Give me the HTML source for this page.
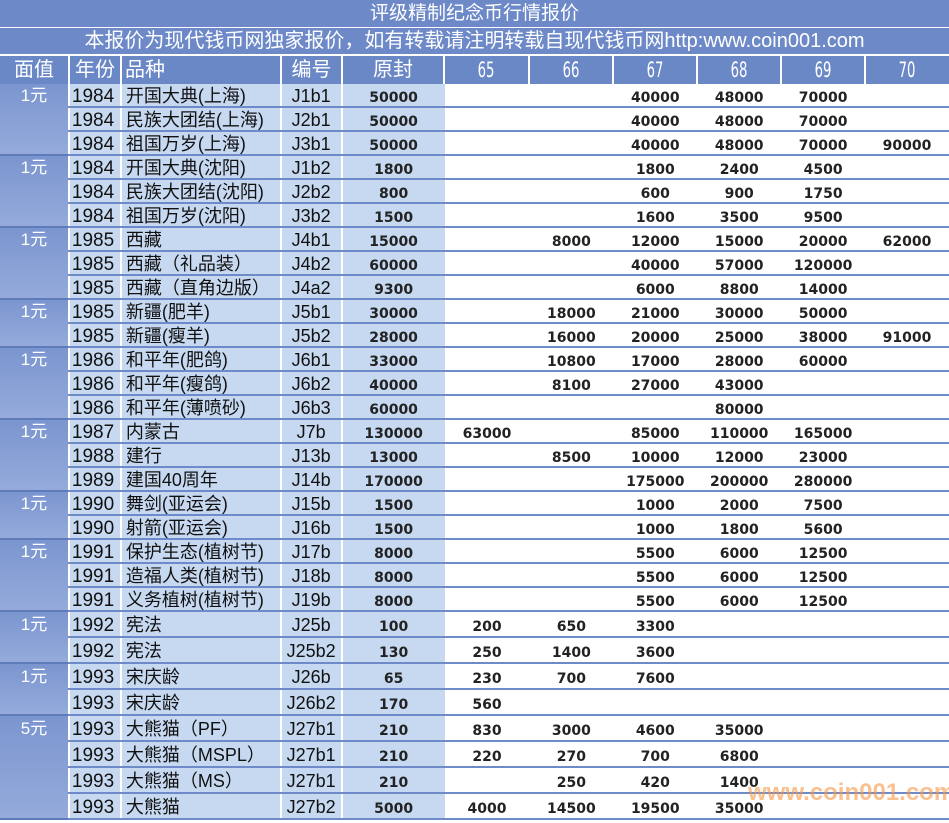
<!DOCTYPE html>
<html><head><meta charset="utf-8"><style>
*{margin:0;padding:0;box-sizing:border-box}
body{width:949px;height:820px;overflow:hidden;background:#fff;position:relative;font-family:"Liberation Sans","Noto Sans CJK SC",sans-serif}
.t{position:absolute;left:0;width:949px;background:#6d89c8;color:#fff;text-align:center}
#t1{top:0;height:27px;font-size:19px;line-height:27px}
#t2{top:28px;height:26px;font-size:20px;line-height:26px}
#hd{position:absolute;top:56px;left:0;height:28px;display:flex;width:949px}
#hd div{background:#6a87c6;color:#fff;font-size:20px;line-height:28px;text-align:center;border-right:2px solid #fff}
#hd .n{font-family:"DejaVu Sans Condensed","Liberation Sans Narrow",sans-serif;font-size:21px;transform:scaleX(.7)}
#rows{position:absolute;top:84px;left:0;width:949px}
.r{display:flex;height:24px;border-bottom:2px solid #6f8ac8}
.r.b{height:26px}
.r div{font-size:17px;line-height:25px;white-space:nowrap;color:#111}
.r.b div{line-height:27px}
.c0{width:70px}
.c1{width:52px;background:#c6d9f1;border-right:2px solid #fff;padding-left:2px;font-size:19px!important}
.c2{width:160px;background:#c6d9f1;border-right:2px solid #fff;padding-left:4px;font-size:18px!important}
.c3{width:61px;background:#c6d9f1;border-right:2px solid #fff;text-align:center;font-size:18px!important}
.c4{width:102px;background:#c6d9f1;text-align:center;font-family:"DejaVu Sans",sans-serif;font-weight:bold;font-size:14px!important;color:#222!important;padding-top:2px}
.v{width:84px;text-align:center;font-family:"DejaVu Sans",sans-serif;font-weight:bold;font-size:14px!important;color:#222!important;padding-top:2px}
.v5{width:85px}
.g{position:absolute;left:0;width:68px;background:linear-gradient(#7b95cf,#94abdb);color:#fff;text-align:center;font-size:17px;line-height:24px;border-bottom:2px solid #5f7bbb}
#wm{position:absolute;left:748px;top:779px;color:rgba(245,150,70,.6);font-weight:bold;font-size:24px;font-family:"Liberation Sans",sans-serif}
</style></head><body>
<div class="t" id="t1">评级精制纪念币行情报价</div>
<div class="t" id="t2">本报价为现代钱币网独家报价，如有转载请注明转载自现代钱币网http:www.coin001.com</div>
<div id="hd">
<div style="width:70px">面值</div><div style="width:52px">年份</div><div style="width:160px;text-align:left;padding-left:3px">品种</div><div style="width:61px">编号</div><div style="width:102px">原封</div>
<div style="width:85px"><span class="n" style="display:inline-block">65</span></div><div style="width:84px"><span class="n" style="display:inline-block">66</span></div><div style="width:84px"><span class="n" style="display:inline-block">67</span></div><div style="width:84px"><span class="n" style="display:inline-block">68</span></div><div style="width:84px"><span class="n" style="display:inline-block">69</span></div><div style="width:83px;border:0"><span class="n" style="display:inline-block">70</span></div>
</div>
<div id="rows">
<div class="r"><div class="c0"></div><div class="c1">1984</div><div class="c2">开国大典(上海)</div><div class="c3">J1b1</div><div class="c4">50000</div><div class="v v5"></div><div class="v"></div><div class="v">40000</div><div class="v">48000</div><div class="v">70000</div><div class="v"></div></div>
<div class="r"><div class="c0"></div><div class="c1">1984</div><div class="c2">民族大团结(上海)</div><div class="c3">J2b1</div><div class="c4">50000</div><div class="v v5"></div><div class="v"></div><div class="v">40000</div><div class="v">48000</div><div class="v">70000</div><div class="v"></div></div>
<div class="r"><div class="c0"></div><div class="c1">1984</div><div class="c2">祖国万岁(上海)</div><div class="c3">J3b1</div><div class="c4">50000</div><div class="v v5"></div><div class="v"></div><div class="v">40000</div><div class="v">48000</div><div class="v">70000</div><div class="v">90000</div></div>
<div class="r"><div class="c0"></div><div class="c1">1984</div><div class="c2">开国大典(沈阳)</div><div class="c3">J1b2</div><div class="c4">1800</div><div class="v v5"></div><div class="v"></div><div class="v">1800</div><div class="v">2400</div><div class="v">4500</div><div class="v"></div></div>
<div class="r"><div class="c0"></div><div class="c1">1984</div><div class="c2">民族大团结(沈阳)</div><div class="c3">J2b2</div><div class="c4">800</div><div class="v v5"></div><div class="v"></div><div class="v">600</div><div class="v">900</div><div class="v">1750</div><div class="v"></div></div>
<div class="r"><div class="c0"></div><div class="c1">1984</div><div class="c2">祖国万岁(沈阳)</div><div class="c3">J3b2</div><div class="c4">1500</div><div class="v v5"></div><div class="v"></div><div class="v">1600</div><div class="v">3500</div><div class="v">9500</div><div class="v"></div></div>
<div class="r"><div class="c0"></div><div class="c1">1985</div><div class="c2">西藏</div><div class="c3">J4b1</div><div class="c4">15000</div><div class="v v5"></div><div class="v">8000</div><div class="v">12000</div><div class="v">15000</div><div class="v">20000</div><div class="v">62000</div></div>
<div class="r"><div class="c0"></div><div class="c1">1985</div><div class="c2">西藏（礼品装）</div><div class="c3">J4b2</div><div class="c4">60000</div><div class="v v5"></div><div class="v"></div><div class="v">40000</div><div class="v">57000</div><div class="v">120000</div><div class="v"></div></div>
<div class="r"><div class="c0"></div><div class="c1">1985</div><div class="c2">西藏（直角边版）</div><div class="c3">J4a2</div><div class="c4">9300</div><div class="v v5"></div><div class="v"></div><div class="v">6000</div><div class="v">8800</div><div class="v">14000</div><div class="v"></div></div>
<div class="r"><div class="c0"></div><div class="c1">1985</div><div class="c2">新疆(肥羊)</div><div class="c3">J5b1</div><div class="c4">30000</div><div class="v v5"></div><div class="v">18000</div><div class="v">21000</div><div class="v">30000</div><div class="v">50000</div><div class="v"></div></div>
<div class="r"><div class="c0"></div><div class="c1">1985</div><div class="c2">新疆(瘦羊)</div><div class="c3">J5b2</div><div class="c4">28000</div><div class="v v5"></div><div class="v">16000</div><div class="v">20000</div><div class="v">25000</div><div class="v">38000</div><div class="v">91000</div></div>
<div class="r"><div class="c0"></div><div class="c1">1986</div><div class="c2">和平年(肥鸽)</div><div class="c3">J6b1</div><div class="c4">33000</div><div class="v v5"></div><div class="v">10800</div><div class="v">17000</div><div class="v">28000</div><div class="v">60000</div><div class="v"></div></div>
<div class="r"><div class="c0"></div><div class="c1">1986</div><div class="c2">和平年(瘦鸽)</div><div class="c3">J6b2</div><div class="c4">40000</div><div class="v v5"></div><div class="v">8100</div><div class="v">27000</div><div class="v">43000</div><div class="v"></div><div class="v"></div></div>
<div class="r"><div class="c0"></div><div class="c1">1986</div><div class="c2">和平年(薄喷砂)</div><div class="c3">J6b3</div><div class="c4">60000</div><div class="v v5"></div><div class="v"></div><div class="v"></div><div class="v">80000</div><div class="v"></div><div class="v"></div></div>
<div class="r"><div class="c0"></div><div class="c1">1987</div><div class="c2">内蒙古</div><div class="c3">J7b</div><div class="c4">130000</div><div class="v v5">63000</div><div class="v"></div><div class="v">85000</div><div class="v">110000</div><div class="v">165000</div><div class="v"></div></div>
<div class="r"><div class="c0"></div><div class="c1">1988</div><div class="c2">建行</div><div class="c3">J13b</div><div class="c4">13000</div><div class="v v5"></div><div class="v">8500</div><div class="v">10000</div><div class="v">12000</div><div class="v">23000</div><div class="v"></div></div>
<div class="r"><div class="c0"></div><div class="c1">1989</div><div class="c2">建国40周年</div><div class="c3">J14b</div><div class="c4">170000</div><div class="v v5"></div><div class="v"></div><div class="v">175000</div><div class="v">200000</div><div class="v">280000</div><div class="v"></div></div>
<div class="r"><div class="c0"></div><div class="c1">1990</div><div class="c2">舞剑(亚运会)</div><div class="c3">J15b</div><div class="c4">1500</div><div class="v v5"></div><div class="v"></div><div class="v">1000</div><div class="v">2000</div><div class="v">7500</div><div class="v"></div></div>
<div class="r"><div class="c0"></div><div class="c1">1990</div><div class="c2">射箭(亚运会)</div><div class="c3">J16b</div><div class="c4">1500</div><div class="v v5"></div><div class="v"></div><div class="v">1000</div><div class="v">1800</div><div class="v">5600</div><div class="v"></div></div>
<div class="r"><div class="c0"></div><div class="c1">1991</div><div class="c2">保护生态(植树节)</div><div class="c3">J17b</div><div class="c4">8000</div><div class="v v5"></div><div class="v"></div><div class="v">5500</div><div class="v">6000</div><div class="v">12500</div><div class="v"></div></div>
<div class="r"><div class="c0"></div><div class="c1">1991</div><div class="c2">造福人类(植树节)</div><div class="c3">J18b</div><div class="c4">8000</div><div class="v v5"></div><div class="v"></div><div class="v">5500</div><div class="v">6000</div><div class="v">12500</div><div class="v"></div></div>
<div class="r"><div class="c0"></div><div class="c1">1991</div><div class="c2">义务植树(植树节)</div><div class="c3">J19b</div><div class="c4">8000</div><div class="v v5"></div><div class="v"></div><div class="v">5500</div><div class="v">6000</div><div class="v">12500</div><div class="v"></div></div>
<div class="r b"><div class="c0"></div><div class="c1">1992</div><div class="c2">宪法</div><div class="c3">J25b</div><div class="c4">100</div><div class="v v5">200</div><div class="v">650</div><div class="v">3300</div><div class="v"></div><div class="v"></div><div class="v"></div></div>
<div class="r b"><div class="c0"></div><div class="c1">1992</div><div class="c2">宪法</div><div class="c3">J25b2</div><div class="c4">130</div><div class="v v5">250</div><div class="v">1400</div><div class="v">3600</div><div class="v"></div><div class="v"></div><div class="v"></div></div>
<div class="r b"><div class="c0"></div><div class="c1">1993</div><div class="c2">宋庆龄</div><div class="c3">J26b</div><div class="c4">65</div><div class="v v5">230</div><div class="v">700</div><div class="v">7600</div><div class="v"></div><div class="v"></div><div class="v"></div></div>
<div class="r b"><div class="c0"></div><div class="c1">1993</div><div class="c2">宋庆龄</div><div class="c3">J26b2</div><div class="c4">170</div><div class="v v5">560</div><div class="v"></div><div class="v"></div><div class="v"></div><div class="v"></div><div class="v"></div></div>
<div class="r b"><div class="c0"></div><div class="c1">1993</div><div class="c2">大熊猫（PF）</div><div class="c3">J27b1</div><div class="c4">210</div><div class="v v5">830</div><div class="v">3000</div><div class="v">4600</div><div class="v">35000</div><div class="v"></div><div class="v"></div></div>
<div class="r b"><div class="c0"></div><div class="c1">1993</div><div class="c2">大熊猫（MSPL）</div><div class="c3">J27b1</div><div class="c4">210</div><div class="v v5">220</div><div class="v">270</div><div class="v">700</div><div class="v">6800</div><div class="v"></div><div class="v"></div></div>
<div class="r b"><div class="c0"></div><div class="c1">1993</div><div class="c2">大熊猫（MS）</div><div class="c3">J27b1</div><div class="c4">210</div><div class="v v5"></div><div class="v">250</div><div class="v">420</div><div class="v">1400</div><div class="v"></div><div class="v"></div></div>
<div class="r b"><div class="c0"></div><div class="c1">1993</div><div class="c2">大熊猫</div><div class="c3">J27b2</div><div class="c4">5000</div><div class="v v5">4000</div><div class="v">14500</div><div class="v">19500</div><div class="v">35000</div><div class="v"></div><div class="v"></div></div>
</div>
<div class="g" style="top:84px;height:72px">1元</div>
<div class="g" style="top:156px;height:72px">1元</div>
<div class="g" style="top:228px;height:72px">1元</div>
<div class="g" style="top:300px;height:48px">1元</div>
<div class="g" style="top:348px;height:72px">1元</div>
<div class="g" style="top:420px;height:72px">1元</div>
<div class="g" style="top:492px;height:48px">1元</div>
<div class="g" style="top:540px;height:72px">1元</div>
<div class="g" style="top:612px;height:52px;line-height:26px">1元</div>
<div class="g" style="top:664px;height:52px;line-height:26px">1元</div>
<div class="g" style="top:716px;height:104px;line-height:26px">5元</div>
<div id="wm">www.coin001.com</div>
</body></html>
